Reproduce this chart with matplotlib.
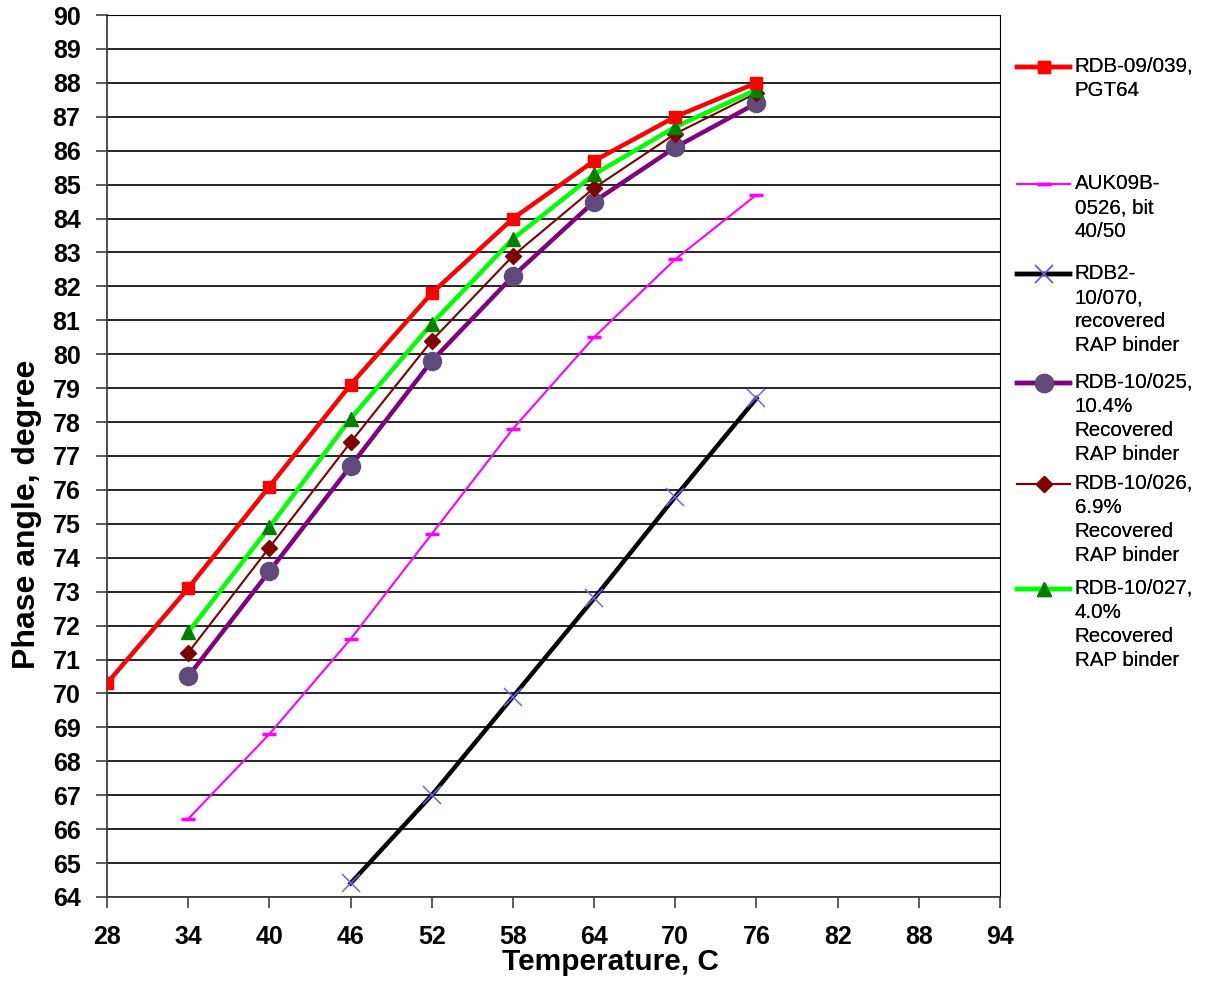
import matplotlib
matplotlib.use("Agg")
import numpy as np
import matplotlib.pyplot as plt
from matplotlib.legend_handler import HandlerLine2D

plt.rcParams['font.family'] = ['Liberation Sans', 'DejaVu Sans']

temps_red = [28, 34, 40, 46, 52, 58, 64, 70, 76]
red_vals = [70.3, 73.1, 76.1, 79.1, 81.8, 84.0, 85.7, 87.0, 88.0]
temps8 = [34, 40, 46, 52, 58, 64, 70, 76]
magenta_vals = [66.3, 68.8, 71.6, 74.7, 77.8, 80.5, 82.8, 84.7]
temps_black = [46, 52, 58, 64, 70, 76]
black_vals = [64.4, 67.0, 69.9, 72.8, 75.8, 78.7]
purple_vals = [70.5, 73.6, 76.7, 79.8, 82.3, 84.5, 86.1, 87.4]
darkred_vals = [71.2, 74.3, 77.4, 80.4, 82.9, 84.9, 86.5, 87.7]
green_vals = [71.8, 74.9, 78.1, 80.9, 83.4, 85.3, 86.7, 87.8]

labels = [
    "RDB-09/039,\nPGT64",
    "AUK09B-\n0526, bit\n40/50",
    "RDB2-\n10/070,\nrecovered\nRAP binder",
    "RDB-10/025,\n10.4%\nRecovered\nRAP binder",
    "RDB-10/026,\n6.9%\nRecovered\nRAP binder",
    "RDB-10/027,\n4.0%\nRecovered\nRAP binder",
]
x_ticks = [28, 34, 40, 46, 52, 58, 64, 70, 76, 82, 88, 94]
y_ticks = list(range(64, 91))

LINESP = 1.34


class TopLineHandler(HandlerLine2D):
    """Align the legend handle with the first line of a multi-line label."""
    def __init__(self, nlines, **kw):
        super().__init__(**kw)
        self.nlines = nlines

    def create_artists(self, legend, orig_handle, xdescent, ydescent, width,
                       height, fontsize, trans):
        arts = super().create_artists(legend, orig_handle, xdescent, ydescent,
                                      width, height, fontsize, trans)
        off = (self.nlines - 1) / 2.0 * fontsize * LINESP * 0.875
        for a in arts:
            a.set_ydata(np.asarray(a.get_ydata(), dtype=float) + off)
        return arts


fig = plt.figure(figsize=(12.17, 9.82), dpi=100)
ax = fig.add_axes([0.0879, 0.0866, 0.7338, 0.8981])

h_red, = ax.plot(temps_red, red_vals, color='#ff0000', lw=3.2, marker='s', ms=9,
                 mfc='#ff0000', mec='#ff0000', zorder=6)
h_mag, = ax.plot(temps8, magenta_vals, color='#ff00ff', lw=1.5, marker='_', ms=10,
                 mew=2.5, mec='#ff00ff', zorder=3)
h_blk, = ax.plot(temps_black, black_vals, color='#000000', lw=3.2, marker='x', ms=13,
                 mew=1.1, mec='#6666ff', zorder=3)
h_pur, = ax.plot(temps8, purple_vals, color='#800080', lw=3.2, marker='o', ms=13,
                 mfc='#604a7b', mec='#604a7b', zorder=3)
h_dr, = ax.plot(temps8, darkred_vals, color='#800000', lw=1.5, marker='D', ms=8,
                mfc='#800000', mec='#800000', zorder=4)
h_grn, = ax.plot(temps8, green_vals, color='#00ff00', lw=3.2, marker='^', ms=10,
                 mfc='#008000', mec='#008000', zorder=5)

ax.set_xlim(28, 94)
ax.set_ylim(64, 90)
ax.set_xticks(x_ticks)
ax.set_yticks(y_ticks)
ax.set_xticklabels([str(v) for v in x_ticks], fontsize=18, fontweight='bold')
ax.set_yticklabels([str(v) for v in y_ticks], fontsize=18, fontweight='bold')
ax.tick_params(axis='both', direction='out', length=8, width=1.2, color='#404040')
ax.tick_params(axis='x', pad=12)
ax.tick_params(axis='y', pad=11)
ax.yaxis.grid(True, color='#000000', lw=1.2)
ax.set_axisbelow(True)
for s in ['left', 'bottom']:
    ax.spines[s].set_color('#404040')
    ax.spines[s].set_linewidth(1.3)
ax.spines['right'].set_color('#000000')
ax.spines['top'].set_color('#000000')

ax.set_xlabel("Temperature, C", fontsize=21.5, fontweight='bold')
ax.xaxis.set_label_coords(0.564, -0.058)
ax.set_ylabel("Phase angle, degree", fontsize=23, fontweight='bold')
ax.yaxis.set_label_coords(-0.073, 0.434)

handles = [h_red, h_mag, h_blk, h_pur, h_dr, h_grn]
tops = [57, 174, 264, 373, 474, 579]
W, H = 1217.0, 982.0
for h, lab, t in zip(handles, labels, tops):
    n = lab.count("\n") + 1
    leg = fig.legend([h], [lab], loc='upper left', bbox_to_anchor=(1017 / W, 1 - t / H),
                     frameon=False, fontsize=14.8, handlelength=2.6, handletextpad=0.2,
                     borderpad=0, borderaxespad=0, numpoints=1,
                     handler_map={h: TopLineHandler(n)})
    for txt in leg.get_texts():
        txt.set_linespacing(LINESP)
    fig.add_artist(leg)

fig.savefig("out.png", dpi=100)
